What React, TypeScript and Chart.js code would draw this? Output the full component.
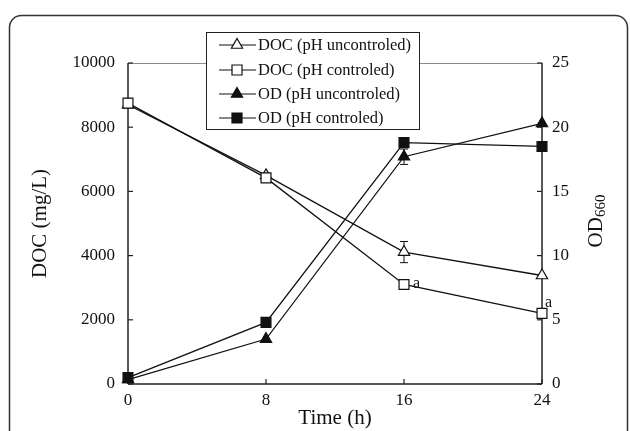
import React, { useEffect, useRef } from 'react';
import { Chart, registerables } from 'chart.js';

Chart.register(...registerables);

const FONT = '"Liberation Serif", "Times New Roman", serif';

const times = [0, 8, 16, 24];
const docUncontrolled = [8700, 6500, 4110, 3380];
const docUncontrolledErr = [0, 0, 330, 0];
const docControlled = [8750, 6420, 3100, 2200];
const docControlledErr = [0, 0, 0, 80];
const odUncontrolled = [0.35, 3.5, 17.7, 20.3];
const odUncontrolledErr = [0, 0, 0.6, 0];
const odControlled = [0.5, 4.8, 18.8, 18.5];

const xTicks = [0, 8, 16, 24];
const leftTicks = [0, 2000, 4000, 6000, 8000, 10000];
const rightTicks = [0, 5, 10, 15, 20, 25];

const legendLabels = [
  'DOC (pH uncontroled)',
  'DOC (pH controled)',
  'OD (pH uncontroled)',
  'OD (pH controled)',
];
const legendStyles = [
  { style: 'triangle', fill: '#fff' },
  { style: 'rect', fill: '#fff' },
  { style: 'triangle', fill: '#111' },
  { style: 'rect', fill: '#111' },
];

const xTitle = 'Time (h)';
const yTitle = 'DOC (mg/L)';
const y1Title = 'OD';
const y1Sub = '660';
const sigLabel = 'a';

function seg(ctx: CanvasRenderingContext2D, x1: number, y1: number, x2: number, y2: number) {
  ctx.beginPath();
  ctx.moveTo(x1, y1);
  ctx.lineTo(x2, y2);
  ctx.stroke();
}

function marker(ctx: CanvasRenderingContext2D, style: string, x: number, y: number, fill: string) {
  ctx.save();
  ctx.fillStyle = fill;
  ctx.strokeStyle = '#111';
  ctx.lineWidth = 1.2;
  ctx.beginPath();
  if (style === 'rect') {
    const h = 5;
    ctx.rect(x - h, y - h, 2 * h, 2 * h);
  } else {
    const r = 6.5;
    ctx.moveTo(x, y - r);
    ctx.lineTo(x + r * 0.866, y + r * 0.5);
    ctx.lineTo(x - r * 0.866, y + r * 0.5);
    ctx.closePath();
  }
  ctx.fill();
  ctx.stroke();
  ctx.restore();
}

const decor = {
  id: 'decor',
  beforeDraw(chart: any) {
    const ctx = chart.ctx as CanvasRenderingContext2D;
    ctx.save();
    ctx.fillStyle = '#fff';
    ctx.fillRect(0, 0, chart.width, chart.height);
    ctx.strokeStyle = '#333';
    ctx.lineWidth = 1.5;
    ctx.beginPath();
    (ctx as any).roundRect(9.5, 15.5, 618, 460, 12);
    ctx.stroke();
    ctx.restore();
  },
  beforeDatasetsDraw(chart: any) {
    const ctx = chart.ctx as CanvasRenderingContext2D;
    const a = chart.chartArea;
    const xs = chart.scales.x;
    const yl = chart.scales.y;
    const yr = chart.scales.y1;
    ctx.save();
    ctx.strokeStyle = '#8a8a8a';
    ctx.lineWidth = 1;
    seg(ctx, a.left, a.top + 0.5, a.right, a.top + 0.5);
    ctx.strokeStyle = '#222';
    ctx.lineWidth = 1.5;
    seg(ctx, a.left, a.top, a.left, a.bottom);
    seg(ctx, a.right, a.top, a.right, a.bottom);
    seg(ctx, a.left, a.bottom, a.right, a.bottom);
    ctx.lineWidth = 1.2;
    leftTicks.forEach((v) => {
      const py = yl.getPixelForValue(v);
      seg(ctx, a.left, py, a.left + 5, py);
    });
    rightTicks.forEach((v) => {
      const py = yr.getPixelForValue(v);
      seg(ctx, a.right - 5, py, a.right, py);
    });
    xTicks.forEach((v) => {
      const px = xs.getPixelForValue(v);
      seg(ctx, px, a.bottom, px, a.bottom - 5);
    });
    // error bars
    const drawErr = (vals: number[], errs: number[], scale: any) => {
      vals.forEach((v, i) => {
        const e = errs[i];
        if (!e) return;
        const px = xs.getPixelForValue(times[i]);
        const top = scale.getPixelForValue(v + e);
        const bot = scale.getPixelForValue(v - e);
        ctx.lineWidth = 1;
        seg(ctx, px, top, px, bot);
        seg(ctx, px - 4, top, px + 4, top);
        seg(ctx, px - 4, bot, px + 4, bot);
      });
    };
    ctx.strokeStyle = '#111';
    drawErr(docUncontrolled, docUncontrolledErr, yl);
    drawErr(docControlled, docControlledErr, yl);
    drawErr(odUncontrolled, odUncontrolledErr, yr);
    ctx.restore();
  },
  afterDraw(chart: any) {
    const ctx = chart.ctx as CanvasRenderingContext2D;
    const a = chart.chartArea;
    const xs = chart.scales.x;
    const yl = chart.scales.y;
    ctx.save();
    // significance labels
    ctx.fillStyle = '#111';
    ctx.font = `16px ${FONT}`;
    ctx.textAlign = 'left';
    ctx.textBaseline = 'alphabetic';
    {
      const px = xs.getPixelForValue(times[2]);
      const py = yl.getPixelForValue(docControlled[2]);
      ctx.fillText(sigLabel, px + 9, py + 4);
    }
    {
      const px = xs.getPixelForValue(times[3]);
      const py = yl.getPixelForValue(docControlled[3]);
      ctx.fillText(sigLabel, px + 3, py - 6);
    }
    // legend box
    const bx = 206.5, by = 32.5, bw = 213, bh = 97;
    ctx.fillStyle = '#fff';
    ctx.fillRect(bx, by, bw, bh);
    ctx.strokeStyle = '#222';
    ctx.lineWidth = 1;
    ctx.strokeRect(bx, by, bw, bh);
    const rows = [45, 70, 94, 118];
    ctx.font = `16.5px ${FONT}`;
    ctx.textBaseline = 'middle';
    legendLabels.forEach((lab, i) => {
      const ry = rows[i];
      ctx.strokeStyle = '#111';
      ctx.lineWidth = 1.2;
      seg(ctx, 219, ry, 256, ry);
      marker(ctx, legendStyles[i].style, 237, ry, legendStyles[i].fill);
      ctx.fillStyle = '#111';
      ctx.fillText(lab, 258, ry + 1);
    });
    // axis titles
    ctx.fillStyle = '#111';
    ctx.font = `21px ${FONT}`;
    ctx.textAlign = 'center';
    ctx.textBaseline = 'middle';
    ctx.fillText(xTitle, (a.left + a.right) / 2, 418);
    ctx.save();
    ctx.translate(40, (a.top + a.bottom) / 2);
    ctx.rotate(-Math.PI / 2);
    ctx.fillText(yTitle, 0, 0);
    ctx.restore();
    // OD660
    ctx.save();
    ctx.font = `21px ${FONT}`;
    const w1 = ctx.measureText(y1Title).width;
    ctx.font = `15px ${FONT}`;
    const w2 = ctx.measureText(y1Sub).width;
    const tot = w1 + w2;
    ctx.translate(595, 221);
    ctx.rotate(-Math.PI / 2);
    ctx.textAlign = 'left';
    ctx.textBaseline = 'alphabetic';
    ctx.font = `21px ${FONT}`;
    ctx.fillText(y1Title, -tot / 2, 7);
    ctx.font = `15px ${FONT}`;
    ctx.fillText(y1Sub, -tot / 2 + w1, 10);
    ctx.restore();
    ctx.restore();
  },
};

export default function App() {
  const ref = useRef<HTMLCanvasElement | null>(null);
  useEffect(() => {
    if (!ref.current) return;
    const tickFont = { family: FONT, size: 17 };
    const pts = (vals: number[]) => times.map((t, i) => ({ x: t, y: vals[i] }));
    const common = {
      borderColor: '#111',
      borderWidth: 1.3,
      pointBorderColor: '#111',
      pointBorderWidth: 1.2,
      tension: 0,
      fill: false,
      clip: false,
    };
    const chart = new Chart(ref.current, {
      type: 'line',
      data: {
        datasets: [
          { ...common, label: legendLabels[1], data: pts(docControlled), yAxisID: 'y', pointStyle: 'rect', pointRadius: 7, pointBackgroundColor: '#fff' },
          { ...common, label: legendLabels[3], data: pts(odControlled), yAxisID: 'y1', pointStyle: 'rect', pointRadius: 7, pointBackgroundColor: '#111' },
          { ...common, label: legendLabels[0], data: pts(docUncontrolled), yAxisID: 'y', pointStyle: 'triangle', pointRadius: 6.5, pointBackgroundColor: '#fff' },
          { ...common, label: legendLabels[2], data: pts(odUncontrolled), yAxisID: 'y1', pointStyle: 'triangle', pointRadius: 6.5, pointBackgroundColor: '#111' },
        ],
      } as any,
      options: {
        animation: false,
        responsive: false,
        layout: { padding: { top: 63, left: 0, right: 0, bottom: 0 } },
        plugins: { legend: { display: false }, tooltip: { enabled: false } },
        scales: {
          x: {
            type: 'linear',
            min: 0,
            max: 24,
            afterBuildTicks: (s: any) => { s.ticks = xTicks.map((v) => ({ value: v })); },
            afterFit: (s: any) => { s.height = 47; },
            grid: { display: false, drawTicks: false },
            border: { display: false },
            ticks: { font: tickFont, color: '#111', padding: 6, maxRotation: 0 },
          },
          y: {
            position: 'left',
            min: 0,
            max: 10000,
            afterBuildTicks: (s: any) => { s.ticks = leftTicks.map((v) => ({ value: v })); },
            afterFit: (s: any) => { s.width = 128; },
            grid: { display: false, drawTicks: false },
            border: { display: false },
            ticks: { font: tickFont, color: '#111', padding: 13, callback: (v: any) => String(v) },
          },
          y1: {
            position: 'right',
            min: 0,
            max: 25,
            afterBuildTicks: (s: any) => { s.ticks = rightTicks.map((v) => ({ value: v })); },
            afterFit: (s: any) => { s.width = 88; },
            grid: { display: false, drawTicks: false },
            border: { display: false },
            ticks: { font: tickFont, color: '#111', padding: 10, callback: (v: any) => String(v) },
          },
        },
      } as any,
      plugins: [decor],
    });
    return () => chart.destroy();
  }, []);
  return (
    <div style={{ position: 'fixed', left: 0, top: 0, width: 630, height: 431, background: '#fff' }}>
      <canvas ref={ref} width={630} height={431} style={{ display: 'block', width: 630, height: 431 }} />
    </div>
  );
}
